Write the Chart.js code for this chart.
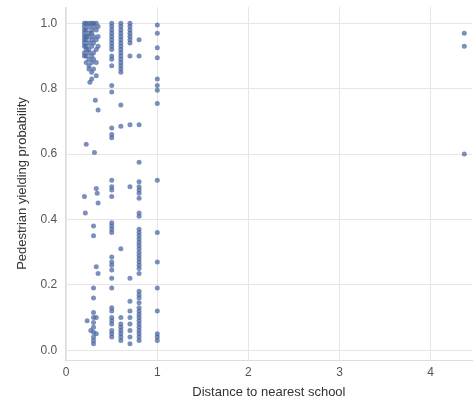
<!DOCTYPE html>
<html>
<head>
<meta charset="utf-8">
<script src="https://cdn.jsdelivr.net/npm/chart.js@4"></script>
<style>
  html, body { margin: 0; padding: 0; background: #fff; }
  #wrap { width: 475px; height: 412px; }
</style>
</head>
<body>
<div id="wrap"><canvas id="chartScatter"></canvas></div>
<script>
// distance to nearest school (x) and yielding probability (y)
const distance = [
  // cluster 0.2 - 0.35
  0.2,0.2,0.2,0.2,0.2,0.2,0.2,0.2,0.2,0.2,
  0.22,0.22,0.22,0.22,0.22,0.22,0.22,0.22,
  0.25,0.25,0.25,0.25,0.25,0.25,0.25,0.25,0.25,0.25,
  0.28,0.28,0.28,0.28,0.28,0.28,0.28,0.28,0.28,
  0.3,0.3,0.3,0.3,0.3,0.3,0.3,
  0.33,0.33,0.33,0.33,0.33,0.33,
  0.35,0.35,0.35,
  0.26,0.32,0.35,0.22,0.31,
  0.33,0.34,0.35,0.2,0.21,0.3,0.3,0.33,0.35,0.3,0.3,0.23,0.27,
  0.3,0.3,0.3,0.3,0.3,0.3,0.3,0.3,0.33,0.33,
  // 0.5
  0.5,0.5,0.5,0.5,0.5,0.5,0.5,0.5,0.5,0.5,0.5,0.5,0.5,0.5,0.5,0.5,0.5,0.5,0.5,0.5,
  0.5,0.5,0.5,0.5,0.5,0.5,0.5,0.5,0.5,0.5,0.5,0.5,0.5,0.5,0.5,0.5,0.5,0.5,0.5,
  // 0.6
  0.6,0.6,0.6,0.6,0.6,0.6,0.6,0.6,0.6,0.6,0.6,0.6,0.6,0.6,0.6,0.6,
  0.6,0.6,0.6,0.6,0.6,0.6,0.6,0.6,0.6,0.6,
  // 0.7
  0.7,0.7,0.7,0.7,0.7,0.7,0.7,0.7,0.7,0.7,0.7,0.7,0.7,0.7,0.7,0.7,0.7,0.7,
  // 0.8
  0.8,0.8,0.8,0.8,0.8,0.8,0.8,0.8,0.8,0.8,0.8,0.8,0.8,0.8,0.8,0.8,0.8,0.8,0.8,0.8,
  0.8,0.8,0.8,0.8,0.8,0.8,0.8,0.8,0.8,0.8,0.8,0.8,0.8,0.8,0.8,0.8,0.8,0.8,0.8,0.8,
  // 1.0
  1.0,1.0,1.0,1.0,1.0,1.0,1.0,1.0,1.0,1.0,1.0,1.0,1.0,1.0,1.0,1.0,
  // far away
  4.37,4.37,4.37
];

const probability = [
  1.0,0.99,0.98,0.97,0.96,0.95,0.94,0.93,0.91,0.9,
  1.0,0.98,0.96,0.95,0.93,0.92,0.9,0.88,
  1.0,0.99,0.97,0.96,0.94,0.92,0.91,0.89,0.87,0.86,
  1.0,0.98,0.97,0.95,0.93,0.9,0.88,0.85,0.83,
  1.0,0.99,0.96,0.94,0.91,0.89,0.86,
  1.0,0.98,0.95,0.92,0.88,0.84,
  0.99,0.96,0.93,
  0.82,0.765,0.735,0.63,0.605,
  0.495,0.48,0.45,0.47,0.42,0.38,0.35,0.255,0.235,0.19,0.16,0.09,0.06,
  0.115,0.1,0.085,0.07,0.055,0.04,0.03,0.02,0.1,0.05,
  1.0,0.99,0.98,0.97,0.96,0.95,0.94,0.93,0.92,0.9,0.89,0.87,0.81,0.79,0.68,0.66,0.65,0.52,0.5,0.49,
  0.47,0.39,0.38,0.37,0.36,0.285,0.27,0.26,0.245,0.22,0.19,0.13,0.12,0.1,0.09,0.08,0.06,0.05,0.04,
  1.0,0.99,0.98,0.97,0.96,0.95,0.94,0.93,0.92,0.91,0.9,0.89,0.88,0.87,0.86,0.85,
  0.75,0.685,0.31,0.1,0.08,0.07,0.05,0.04,0.03,0.06,
  1.0,0.99,0.98,0.97,0.96,0.95,0.94,0.9,0.69,0.5,0.22,0.15,0.12,0.1,0.08,0.06,0.04,0.02,
  0.95,0.9,0.69,0.575,0.515,0.5,0.49,0.48,0.465,0.42,0.41,0.37,0.36,0.35,0.34,0.33,0.32,0.31,0.3,0.29,
  0.28,0.27,0.26,0.25,0.235,0.18,0.17,0.16,0.145,0.13,0.12,0.11,0.1,0.09,0.08,0.07,0.06,0.05,0.04,0.03,
  0.995,0.97,0.925,0.895,0.83,0.81,0.795,0.755,0.52,0.36,0.27,0.19,0.12,0.05,0.04,0.03,
  0.97,0.93,0.6
];

const xTicks = [0, 1, 2, 3, 4];
const yTicks = [0.0, 0.2, 0.4, 0.6, 0.8, 1.0];

document.addEventListener('DOMContentLoaded', () => {
  const points = distance.map((d, i) => ({ x: d, y: probability[i] }));

  new Chart(document.getElementById('chartScatter'), {
    type: 'scatter',
    data: {
      datasets: [{
        data: points,
        backgroundColor: 'rgba(70,100,160,0.72)',
        borderWidth: 0,
        pointRadius: 2.5,
        pointHoverRadius: 2.5
      }]
    },
    options: {
      responsive: true,
      maintainAspectRatio: false,
      animation: false,
      layout: { padding: { top: 7, right: 0, left: 11, bottom: 8 } },
      plugins: { legend: { display: false }, tooltip: { enabled: false } },
      scales: {
        x: {
          type: 'linear',
          min: -0.01,
          max: 4.46,
          afterBuildTicks: axis => { axis.ticks = xTicks.map(v => ({ value: v })); },
          grid: { color: '#e6e6e6', drawTicks: false },
          border: { color: '#dddddd' },
          ticks: { color: '#555', font: { family: 'Liberation Sans', size: 12 }, padding: 5 },
          title: { display: true, text: 'Distance to nearest school', color: '#333',
                   font: { family: 'Liberation Sans', size: 13 }, padding: { top: 0 } }
        },
        y: {
          min: -0.03,
          max: 1.05,
          afterBuildTicks: axis => { axis.ticks = yTicks.map(v => ({ value: v })); },
          afterFit: axis => { axis.paddingTop = 0; },
          grid: { color: '#e6e6e6', drawTicks: false },
          border: { color: '#dddddd' },
          ticks: { color: '#555', font: { family: 'Liberation Sans', size: 12 }, padding: 8,
                   callback: v => v.toFixed(1) },
          title: { display: true, text: 'Pedestrian yielding probability', color: '#333',
                   font: { family: 'Liberation Sans', size: 13 }, padding: { bottom: 2 } }
        }
      }
    }
  });
});
</script>
</body>
</html>
